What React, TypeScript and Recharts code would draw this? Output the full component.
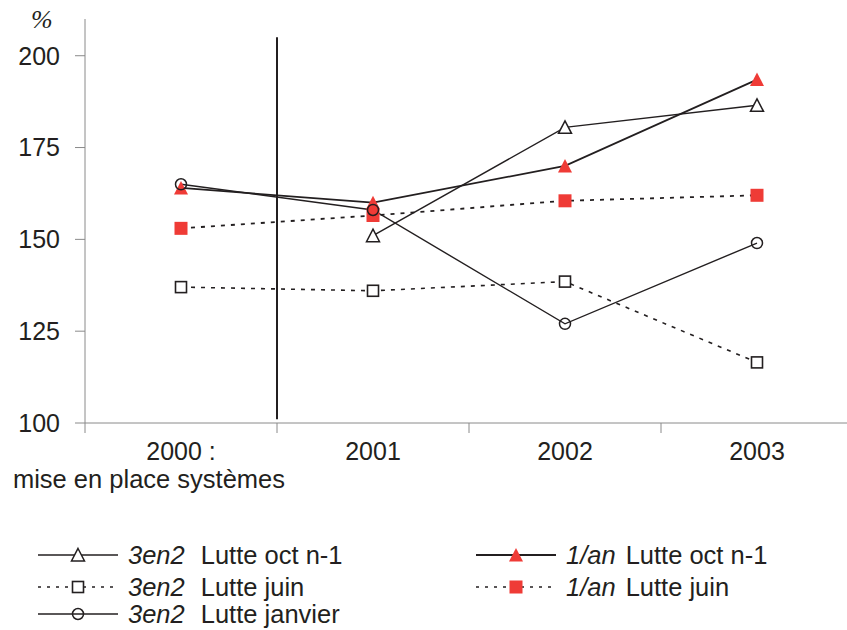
import { LineChart, Line, XAxis, YAxis, ReferenceLine } from 'recharts';

// x positions are year indexes, labels below
const years = [0, 1, 2, 3];
const yearLabels = ['2000 :', '2001', '2002', '2003'];
const setupNote = 'mise en place systèmes';
const yTicks = [100, 125, 150, 175, 200];
const xTicks = [-0.5, 0, 0.5, 1, 1.5, 2, 2.5, 3, 3.5];

// values in %
const oct3en2 = [null, 151, 180.5, 186.5];
const juin3en2 = [137, 136, 138.5, 116.5];
const janv3en2 = [165, 158, 127, 149];
const oct1an = [164, 160, 170, 193.5];
const juin1an = [153, 156.5, 160.5, 162];

const data = years.map((x, i) => ({
  x,
  oct3en2: oct3en2[i],
  juin3en2: juin3en2[i],
  janv3en2: janv3en2[i],
  oct1an: oct1an[i],
  juin1an: juin1an[i],
}));

const INK = '#231f20';
const RED = '#ef3b36';
const AXIS = '#8a8a8a';
const FONT = '"Liberation Sans", Arial, sans-serif';

type Marker = 'triOpen' | 'triRed' | 'sqOpen' | 'sqRed' | 'circle';

function drawMarker(kind: Marker, cx: number, cy: number, key?: string | number) {
  if (cx == null || cy == null || Number.isNaN(cx) || Number.isNaN(cy)) return <g key={key} />;
  switch (kind) {
    case 'triOpen':
      return (
        <path key={key} d={`M${cx},${cy - 6.5} L${cx + 6.5},${cy + 6} L${cx - 6.5},${cy + 6} Z`}
          fill="#fff" stroke={INK} strokeWidth={1.5} />
      );
    case 'triRed':
      return (
        <path key={key} d={`M${cx},${cy - 7} L${cx + 7},${cy + 6.5} L${cx - 7},${cy + 6.5} Z`} fill={RED} />
      );
    case 'sqOpen':
      return <rect key={key} x={cx - 5.5} y={cy - 5.5} width={11} height={11} fill="#fff" stroke={INK} strokeWidth={1.6} />;
    case 'sqRed':
      return <rect key={key} x={cx - 6.5} y={cy - 6.5} width={13} height={13} fill={RED} />;
    default:
      return <circle key={key} cx={cx} cy={cy} r={5.5} fill="none" stroke={INK} strokeWidth={1.5} />;
  }
}

const series: {
  key: string; tag: string; gap: number; label: string; dash?: string; width: number; marker: Marker;
}[] = [
  { key: 'oct1an', tag: '1/an', gap: 10, label: 'Lutte oct n-1', width: 1.8, marker: 'triRed' },
  { key: 'juin1an', tag: '1/an', gap: 10, label: 'Lutte juin', dash: '4 6', width: 1.8, marker: 'sqRed' },
  { key: 'oct3en2', tag: '3en2', gap: 16, label: 'Lutte oct n-1', width: 1.4, marker: 'triOpen' },
  { key: 'juin3en2', tag: '3en2', gap: 16, label: 'Lutte juin', dash: '4 6', width: 1.6, marker: 'sqOpen' },
  { key: 'janv3en2', tag: '3en2', gap: 16, label: 'Lutte janvier', width: 1.4, marker: 'circle' },
];

const legendCols = [
  { left: 38, keys: ['oct3en2', 'juin3en2', 'janv3en2'] },
  { left: 476, keys: ['oct1an', 'juin1an'] },
];
const legendRows = [555, 587, 614];

function YearTick({ x, y, payload }: any) {
  const v = payload.value;
  if (!Number.isInteger(v)) {
    return <line x1={x} y1={y} x2={x} y2={y + 10} stroke={AXIS} strokeWidth={1} />;
  }
  return (
    <g>
      <text x={x} y={y} dy={37} textAnchor="middle" fontSize={25} fill={INK} fontFamily={FONT}>
        {yearLabels[v]}
      </text>
      {v === 0 && (
        <text x={x - 32} y={y} dy={65} textAnchor="middle" fontSize={25.5} fill={INK} fontFamily={FONT}>
          {setupNote}
        </text>
      )}
    </g>
  );
}

function LegendSample({ s }: { s: (typeof series)[number] }) {
  return (
    <svg width={80} height={26} style={{ display: 'block' }}>
      <line x1={0} y1={13} x2={80} y2={13} stroke={INK} strokeWidth={s.dash ? 1.4 : s.width}
        strokeDasharray={s.dash ? '3 6' : undefined} />
      {drawMarker(s.marker, 40, 13)}
    </svg>
  );
}

export default function App() {
  return (
    <div style={{ position: 'absolute', left: 0, top: 0, width: 847, height: 630, overflow: 'hidden', background: '#fff', fontFamily: FONT }}>
      <div style={{ position: 'absolute', left: 31, top: 5, fontSize: 26, lineHeight: '30px', fontStyle: 'italic', fontFamily: '"Liberation Serif", serif', color: INK }}>%</div>
      <LineChart width={853} height={510} data={data} margin={{ top: 19, right: 0, left: 0, bottom: 0 }}>
        <XAxis dataKey="x" type="number" domain={[-0.5, 3.5]} ticks={xTicks} interval={0}
          allowDataOverflow tick={<YearTick />} tickLine={false} tickSize={0} tickMargin={0}
          axisLine={{ stroke: AXIS, strokeWidth: 1 }} height={87} />
        <YAxis domain={[100, 210]} ticks={yTicks} width={85} tickSize={10} tickMargin={15}
          allowDataOverflow axisLine={{ stroke: AXIS, strokeWidth: 1 }} tickLine={{ stroke: AXIS }}
          tick={{ fontSize: 25, fill: INK, fontFamily: FONT }} />
        <ReferenceLine segment={[{ x: 0.5, y: 101 }, { x: 0.5, y: 205 }]} stroke={INK} strokeWidth={2} ifOverflow="visible" />
        {series.map((s) => (
          <Line key={s.key} dataKey={s.key} type="linear" stroke={INK} strokeWidth={s.width}
            strokeDasharray={s.dash} isAnimationActive={false} connectNulls={false}
            dot={(p: any) => drawMarker(s.marker, p.cx, p.cy, `${s.key}-${p.index}`)}
            activeDot={false} />
        ))}
      </LineChart>
      {legendCols.map((col) =>
        col.keys.map((k, r) => {
          const s = series.find((e) => e.key === k)!;
          return (
            <div key={k} style={{ position: 'absolute', left: col.left, top: legendRows[r] - 14, height: 28, lineHeight: '28px', display: 'flex', alignItems: 'center', fontSize: 25.5, color: INK, whiteSpace: 'nowrap' }}>
              <LegendSample s={s} />
              <span style={{ fontStyle: 'italic', marginLeft: 10, marginRight: s.gap }}>{s.tag}</span>
              <span>{s.label}</span>
            </div>
          );
        })
      )}
    </div>
  );
}
